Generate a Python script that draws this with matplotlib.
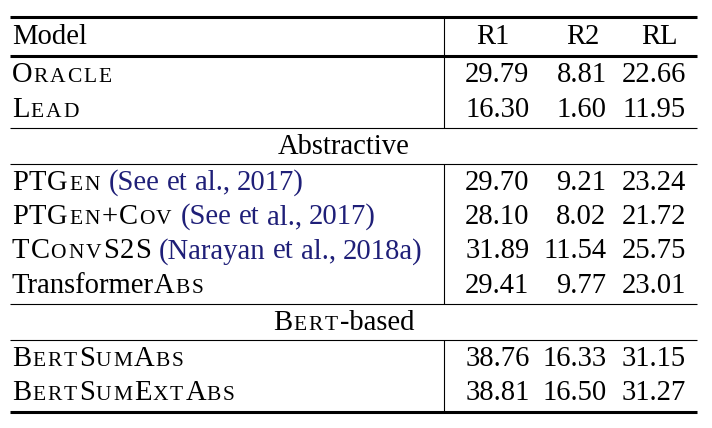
import re
import matplotlib
matplotlib.use("Agg")
import matplotlib.pyplot as plt

plt.rcParams['font.family'] = ['Liberation Serif', 'DejaVu Serif']

# {..} = small caps, [..] = citation (blue)
headers = ["Model", "R1", "R2", "RL"]
sections = [None, "Abstractive", "{Bert}-based"]
models = [
    ["{Oracle}", "{Lead}"],
    ["{PTGen} [(See et al., 2017)]",
     "{PTGen+Cov} [(See et al., 2017)]",
     "{TConvS2S} [(Narayan et al., 2018a)]",
     "Transformer{Abs}"],
    ["{BertSumAbs}", "{BertSumExtAbs}"],
]
r1 = [[29.79, 16.30], [29.70, 28.10, 31.89, 29.41], [38.76, 38.81]]
r2 = [[8.81, 1.60], [9.21, 8.02, 11.54, 9.77], [16.33, 16.50]]
rl = [[22.66, 11.95], [23.24, 21.72, 25.75, 23.01], [31.15, 31.27]]

FS = 20.6
SC = 0.75 * FS
CITE = '#1f1f78'
SPACE = 0.25 * FS * 100 / 72
TRACK = 2.0       # extra spacing after small caps, px
TRACK_CAP = 1.0   # extra spacing after full caps inside small-caps words

fig = plt.figure(figsize=(7.12, 4.28), dpi=100)
ax = fig.add_axes([0, 0, 1, 1])
ax.set_xlim(0, 712)
ax.set_ylim(428, 0)
ax.axis('off')
renderer = fig.canvas.get_renderer()

x_left, x_right = 10, 697
x_vline = 444.3
col_right = [529.5, 606.5, 686]
head_center = [492.5, 582.5, 659]
mid = 343.5
row_h = 34.5


def draw_rich(x, y, markup, ha='left'):
    pieces = []
    for tok in re.findall(r'\{[^}]*\}|\[[^\]]*\]|[^{\[]+', markup):
        if tok.startswith('{'):
            for ch in tok[1:-1]:
                if ch.islower():
                    pieces.append((ch.upper(), SC, 'black', TRACK))
                else:
                    pieces.append((ch, FS, 'black', TRACK_CAP))
        elif tok.startswith('['):
            pieces.append((tok[1:-1], FS, CITE, 0))
        else:
            pieces.append((tok, FS, 'black', 0))
    arts = []
    cx = x
    for txt, size, col, tr in pieces:
        # spaces handled by hand, text extents drop them
        for p in re.split(r'( +)', txt):
            if not p:
                continue
            if p.strip() == '':
                cx += SPACE * len(p)
                continue
            t = ax.text(cx, y, p, fontsize=size, color=col, va='baseline', ha='left')
            cx += t.get_window_extent(renderer).width + tr
            arts.append(t)
    if ha == 'center':
        dx = (cx - x) / 2
        for t in arts:
            t.set_x(t.get_position()[0] - dx)


def rule(y, lw):
    ax.plot([x_left, x_right], [y, y], color='black', lw=lw, solid_capstyle='butt')


def vline(y0, y1):
    ax.plot([x_vline, x_vline], [y0, y1], color='black', lw=0.8, solid_capstyle='butt')


# header
y = 17
rule(y, 2.2)
top = y
draw_rich(12, y + 27, headers[0])
for c, h in zip(head_center, headers[1:]):
    ax.text(c, y + 27, h, fontsize=FS, ha='center', va='baseline')
y += 39
rule(y, 2.2)
vline(top, y)

for s, (name, rows) in enumerate(zip(sections, models)):
    if name is not None:
        draw_rich(mid, y + 26, name, ha='center')
        y += 36
        rule(y, 0.8)
    start = y
    base = y + 26
    for i, m in enumerate(rows):
        b = base + i * row_h
        draw_rich(12, b, m)
        for xr, vals in zip(col_right, (r1, r2, rl)):
            ax.text(xr, b, f"{vals[s][i]:.2f}", fontsize=FS, ha='right', va='baseline')
    y = base + (len(rows) - 1) * row_h + 11
    vline(start, y)
    if s == len(sections) - 1:
        rule(y, 2.2)
    else:
        rule(y, 0.8)

fig.savefig("out.png", dpi=100)
